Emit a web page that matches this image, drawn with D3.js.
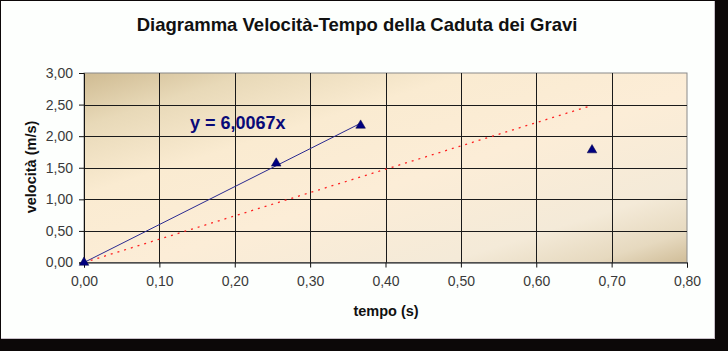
<!DOCTYPE html>
<html>
<head>
<meta charset="utf-8">
<script src="https://cdn.jsdelivr.net/npm/d3@7"></script>
<style>
  html, body { margin: 0; padding: 0; background: #0c0808; }
  svg { display: block; font-family: "Liberation Sans", Arial, sans-serif; }
  .axis-title { font-weight: bold; font-size: 14.5px; fill: #111; }
</style>
</head>
<body>
<svg id="chart" width="728" height="351"></svg>
<script>
// measured points (tempo s, velocità m/s)
const tempo = [0, 0.255, 0.367, 0.674];
const velocita = [0, 1.57, 2.17, 1.78];

// trendline through origin fitted on first three points
const fitSlope = 6.0067;
const fitRange = [0, 0.367];
const fitLabel = "y = 6,0067x";

// second (dotted) line
const dotX = [0, 0.672];
const dotY = [0, 2.48];

const xTicks = [0, 0.1, 0.2, 0.3, 0.4, 0.5, 0.6, 0.7, 0.8];
const yTicks = [0, 0.5, 1, 1.5, 2, 2.5, 3];

const title = "Diagramma Velocità-Tempo della Caduta dei Gravi";
const xTitle = "tempo (s)";
const yTitle = "velocità (m/s)";

const W = 728, H = 351;
const M = { left: 84, right: 687, top: 73, bottom: 262.5 };

const svg = d3.select("#chart");
const fmt = (d) => d3.format(".2f")(d).replace(".", ",");

// panel
svg.append("rect").attr("x", 0).attr("y", 0).attr("width", W).attr("height", H).attr("fill", "#0c0808");
svg.append("rect").attr("x", 1).attr("y", 1).attr("width", 714).attr("height", 338)
  .attr("fill", "#c8c0c8");
svg.append("rect").attr("x", 1).attr("y", 1).attr("width", 713).attr("height", 337)
  .attr("fill", "#fdfffd");

const x = d3.scaleLinear().domain([0, 0.8]).range([M.left, M.right]);
const y = d3.scaleLinear().domain([0, 3]).range([M.bottom, M.top]);

// plot background gradient
const defs = svg.append("defs");
const grad = defs.append("linearGradient").attr("id", "bg")
  .attr("x1", 0).attr("y1", 0).attr("x2", 1).attr("y2", 1);
[[0, "#cfbb92"], [0.14, "#e8d9b8"], [0.32, "#faebd1"], [0.55, "#fcedd7"],
 [0.8, "#f4ead8"], [0.92, "#e6d9bf"], [1, "#d0bd98"]]
  .forEach(([o, c]) => grad.append("stop").attr("offset", o).attr("stop-color", c));

svg.append("rect")
  .attr("x", x(0)).attr("y", y(3))
  .attr("width", x(0.8) - x(0)).attr("height", y(0) - y(3))
  .attr("fill", "url(#bg)")
  .attr("stroke", "#8a8a8a").attr("stroke-width", 1);

// gridlines
const g = svg.append("g");
g.selectAll("line.vg").data(xTicks.slice(1, -1)).join("line")
  .attr("x1", (d) => Math.round(x(d)) + 0.5).attr("x2", (d) => Math.round(x(d)) + 0.5)
  .attr("y1", y(3)).attr("y2", y(0))
  .attr("stroke", "#1a1a1a").attr("stroke-width", 1);
g.selectAll("line.hg").data(yTicks.slice(1, -1)).join("line")
  .attr("y1", (d) => Math.round(y(d)) + 0.5).attr("y2", (d) => Math.round(y(d)) + 0.5)
  .attr("x1", x(0)).attr("x2", x(0.8))
  .attr("stroke", "#1a1a1a").attr("stroke-width", 1);

// axes
const xAxis = svg.append("g").attr("transform", `translate(0,${y(0)})`)
  .call(d3.axisBottom(x).tickValues(xTicks).tickFormat(fmt).tickSize(5).tickPadding(9));
const yAxis = svg.append("g").attr("transform", `translate(${x(0)},0)`)
  .call(d3.axisLeft(y).tickValues(yTicks).tickFormat(fmt).tickSize(5).tickPadding(6));
[xAxis, yAxis].forEach((a) => {
  a.select(".domain").attr("stroke", "#111");
  a.selectAll(".tick line").attr("stroke", "#111");
  a.selectAll(".tick text").attr("font-size", 14).attr("fill", "#3a3a3a")
    .attr("font-family", "'Liberation Sans', Arial, sans-serif");
});

// trendline
svg.append("line")
  .attr("x1", x(fitRange[0])).attr("y1", y(fitSlope * fitRange[0]))
  .attr("x2", x(fitRange[1])).attr("y2", y(fitSlope * fitRange[1]))
  .attr("stroke", "#2a2a90").attr("stroke-width", 1);

// dotted line
svg.append("path")
  .datum(dotX.map((d, i) => [d, dotY[i]]))
  .attr("d", d3.line().x((d) => x(d[0])).y((d) => y(d[1])))
  .attr("fill", "none").attr("stroke", "#ff2020").attr("stroke-width", 1.3)
  .attr("stroke-dasharray", "2,5");

// markers
svg.append("g").selectAll("path").data(tempo.map((d, i) => [d, velocita[i]])).join("path")
  .attr("d", d3.symbol(d3.symbolTriangle, 40))
  .attr("transform", (d) => `translate(${x(d[0])},${y(d[1])})`)
  .attr("fill", "#000080").attr("stroke", "#000040").attr("stroke-width", 0.5);

// equation label
svg.append("text").attr("x", 190).attr("y", 129)
  .attr("font-weight", "bold").attr("font-size", 18).attr("fill", "#0a0a78")
  .text(fitLabel);

// titles
svg.append("text").attr("x", 357).attr("y", 31).attr("text-anchor", "middle")
  .attr("font-weight", "bold").attr("font-size", 18.5).attr("fill", "#111")
  .text(title);
svg.append("text").attr("class", "axis-title").attr("x", 386).attr("y", 316)
  .attr("text-anchor", "middle").text(xTitle);
svg.append("text").attr("class", "axis-title")
  .attr("transform", `translate(36,167) rotate(-90)`)
  .attr("text-anchor", "middle").text(yTitle);
</script>
</body>
</html>
